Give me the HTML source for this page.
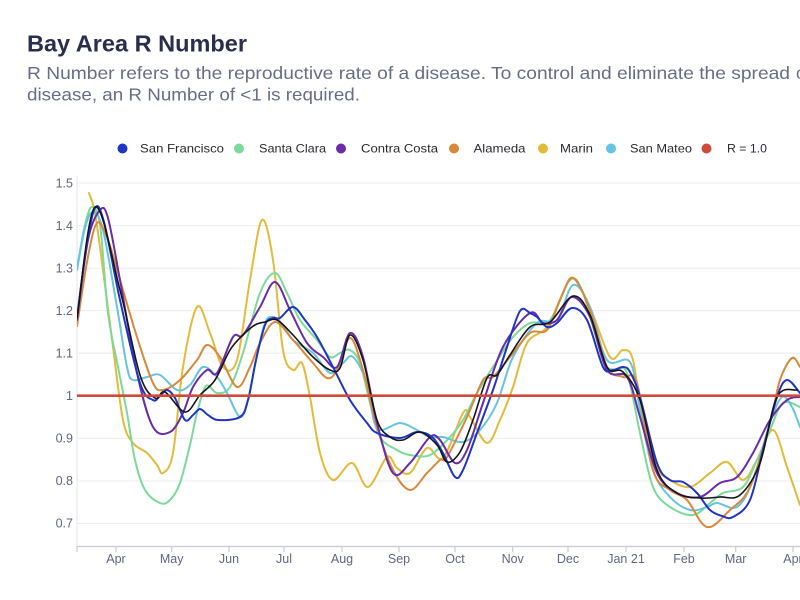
<!DOCTYPE html>
<html>
<head>
<meta charset="utf-8">
<style>
html,body{margin:0;padding:0;background:#fff;width:800px;height:600px;overflow:hidden;}
svg{display:block;}
text{font-family:"Liberation Sans",Arial,sans-serif;}
</style>
</head>
<body>
<svg id="c" width="800" height="600" viewBox="0 0 800 600" xmlns="http://www.w3.org/2000/svg">
<rect width="800" height="600" fill="#fff"/>
<!-- Title -->
<text x="27" y="51.5" font-size="23" font-weight="bold" fill="#2b2d4c" textLength="220" lengthAdjust="spacingAndGlyphs">Bay Area R Number</text>
<text x="27" y="79" font-size="17.5" fill="#686c86" textLength="763" lengthAdjust="spacingAndGlyphs">R Number refers to the reproductive rate of a disease. To control and eliminate the spread</text>
<text x="796" y="79" font-size="17.5" fill="#686c86">of</text>
<text x="27" y="100.5" font-size="17.5" fill="#686c86" textLength="333" lengthAdjust="spacingAndGlyphs">disease, an R Number of &lt;1 is required.</text>

<!-- Legend -->
<g font-size="12" fill="#2a2a33">
<circle cx="122.5" cy="148.5" r="5" fill="#1f35c5"/><text x="140" y="152.5" textLength="84" lengthAdjust="spacingAndGlyphs">San Francisco</text>
<circle cx="239" cy="148.5" r="5" fill="#7bd999"/><text x="259" y="152.5" textLength="67" lengthAdjust="spacingAndGlyphs">Santa Clara</text>
<circle cx="341" cy="148.5" r="5" fill="#6a2ca8"/><text x="361" y="152.5" textLength="77" lengthAdjust="spacingAndGlyphs">Contra Costa</text>
<circle cx="454" cy="148.5" r="5" fill="#d8883a"/><text x="473.5" y="152.5" textLength="52" lengthAdjust="spacingAndGlyphs">Alameda</text>
<circle cx="543" cy="148.5" r="5" fill="#e2bb3b"/><text x="560" y="152.5" textLength="33" lengthAdjust="spacingAndGlyphs">Marin</text>
<circle cx="611" cy="148.5" r="5" fill="#67c4e0"/><text x="630" y="152.5" textLength="62" lengthAdjust="spacingAndGlyphs">San Mateo</text>
<circle cx="706.5" cy="148.5" r="5" fill="#cf4a3a"/><text x="727" y="152.5" textLength="40" lengthAdjust="spacingAndGlyphs">R = 1.0</text>
</g>

<!-- gridlines -->
<g stroke="#ececf0" stroke-width="1">
<line x1="77" x2="800" y1="183" y2="183"/>
<line x1="77" x2="800" y1="225.6" y2="225.6"/>
<line x1="77" x2="800" y1="268.3" y2="268.3"/>
<line x1="77" x2="800" y1="310.6" y2="310.6"/>
<line x1="77" x2="800" y1="353.1" y2="353.1"/>
<line x1="77" x2="800" y1="438.3" y2="438.3"/>
<line x1="77" x2="800" y1="481" y2="481"/>
<line x1="77" x2="800" y1="523.5" y2="523.5"/>
</g>
<line x1="77" x2="77" y1="176" y2="546" stroke="#e6e6ec" stroke-width="1"/>
<!-- x axis -->
<line x1="77" x2="800" y1="546.5" y2="546.5" stroke="#c8cad6" stroke-width="1.2"/>
<g stroke="#c8cad6" stroke-width="1.2">
<line x1="77" x2="77" y1="546" y2="552"/>
<line x1="116" x2="116" y1="546" y2="552"/>
<line x1="171.7" x2="171.7" y1="546" y2="552"/>
<line x1="229" x2="229" y1="546" y2="552"/>
<line x1="284" x2="284" y1="546" y2="552"/>
<line x1="342" x2="342" y1="546" y2="552"/>
<line x1="399" x2="399" y1="546" y2="552"/>
<line x1="455" x2="455" y1="546" y2="552"/>
<line x1="512.7" x2="512.7" y1="546" y2="552"/>
<line x1="568" x2="568" y1="546" y2="552"/>
<line x1="626" x2="626" y1="546" y2="552"/>
<line x1="684" x2="684" y1="546" y2="552"/>
<line x1="735.7" x2="735.7" y1="546" y2="552"/>
<line x1="793" x2="793" y1="546" y2="552"/>
</g>
<g font-size="12.5" fill="#62667e" text-anchor="middle">
<text x="116" y="563">Apr</text>
<text x="171.7" y="563">May</text>
<text x="229" y="563">Jun</text>
<text x="284" y="563">Jul</text>
<text x="342" y="563">Aug</text>
<text x="399" y="563">Sep</text>
<text x="455" y="563">Oct</text>
<text x="512.7" y="563">Nov</text>
<text x="568" y="563">Dec</text>
<text x="626" y="563">Jan 21</text>
<text x="684" y="563">Feb</text>
<text x="735.7" y="563">Mar</text>
<text x="793" y="563">Apr</text>
</g>
<g font-size="12.5" fill="#62667e" text-anchor="end">
<text x="73" y="187.5">1.5</text>
<text x="73" y="230">1.4</text>
<text x="73" y="272.5">1.3</text>
<text x="73" y="315">1.2</text>
<text x="73" y="357.5">1.1</text>
<text x="73" y="400">1</text>
<text x="73" y="442.5">0.9</text>
<text x="73" y="485">0.8</text>
<text x="73" y="527.5">0.7</text>
</g>

<defs><clipPath id="pc"><rect x="77" y="170" width="723" height="376"/></clipPath></defs>
<g clip-path="url(#pc)" fill="none" stroke-width="2" stroke-linejoin="round" stroke-linecap="round">
<polyline class="s" stroke="#e2bb3b" points="89,193 95,213 103,270 113,347 123,420 133,443 147,453 157,465 163,473 173,453 183,367 197,307 210,333 223,367 237,360 250,280 262,220 273,260 283,350 293,370 302,363 310,397 320,453 333,480 352,463 368,487 387,457 397,468 410,473 427,448 443,458 463,413 470,417 487,443 500,420 513,387 527,343 547,327 563,293 573,278 590,307 610,357 623,350 633,360 643,423 657,467 670,480 690,487 710,473 727,462 743,480 757,460 773,430 787,467 800,505"/>
<polyline class="s" stroke="#7bd999" points="77,268 85,225 92,207 100,225 108,313 118,367 127,413 135,460 145,490 160,503 170,500 180,483 190,445 197,413 206,386 217,393 230,387 243,353 260,293 275,273 287,293 300,320 317,340 330,357 340,353 350,350 360,363 370,403 380,437 397,450 410,455 430,455 450,437 463,420 477,393 493,367 513,337 530,323 550,320 570,280 583,293 603,360 615,370 627,373 640,433 653,487 670,507 693,515 710,503 723,493 743,487 757,460 770,430 783,403 800,407"/>
<polyline class="s" stroke="#67c4e0" points="77,270 85,228 93,212 103,230 117,307 127,367 133,380 147,377 160,375 177,390 190,385 203,367 217,377 227,393 240,417 248,400 256,360 265,323 273,317 283,325 293,340 313,353 330,373 343,363 353,357 367,383 377,428 400,423 417,430 430,437 443,437 463,442 480,430 497,403 513,357 537,323 557,320 573,285 590,307 607,360 630,362 640,410 653,470 670,497 690,510 707,507 717,503 737,507 753,480 770,423 782,397 792,407 800,427"/>
<polyline class="s" stroke="#d8883a" points="77,326 87,262 97,223 108,240 120,280 137,337 153,383 163,390 180,380 197,360 207,345 220,357 237,387 250,367 260,343 275,322 293,340 313,363 327,378 337,370 350,338 363,370 377,427 393,470 410,490 427,473 440,460 447,457 467,417 483,380 493,377 510,357 530,333 547,330 560,300 573,278 590,310 607,367 623,377 637,383 653,470 670,490 687,500 707,527 730,510 750,487 770,423 780,380 792,358 800,367"/>
<polyline class="s" stroke="#6a2ca8" points="77,320 88,240 100,210 108,218 120,280 137,373 153,427 170,432 183,413 193,387 207,370 217,373 233,337 243,335 260,307 275,282 290,310 307,343 323,357 337,367 350,333 363,357 377,423 393,473 410,463 430,437 440,440 455,463 467,450 483,403 503,347 530,313 543,323 557,320 572,297 590,317 607,370 627,377 640,417 657,473 677,493 700,497 720,483 737,477 753,453 770,420 787,400 800,397"/>
<polyline class="s" stroke="#1f35c5" points="77,318 86,250 95,208 104,222 120,300 140,383 153,400 160,396 167,390 175,398 185,420 193,415 200,409 208,415 218,420 240,417 248,400 256,360 265,325 273,318 280,318 293,307 305,320 317,337 333,367 350,400 367,423 377,433 400,438 417,432 432,437 443,453 455,477 463,470 477,433 493,390 507,347 520,311 530,313 537,317 547,327 557,323 572,308 587,320 603,367 613,370 623,367 630,372 640,397 657,463 670,480 683,482 697,493 710,510 722,516 733,517 750,500 763,450 777,397 787,380 800,393"/>
<polyline class="s" stroke="#15151a" stroke-width="1.6" points="77,318 95,207 120,290 140,375 155,398 165,392 185,412 200,395 215,380 230,350 243,335 255,325 265,322 277,320 293,335 313,357 330,370 340,368 350,335 363,360 377,420 390,437 403,440 420,432 437,445 447,462 460,452 473,420 487,378 497,375 510,355 530,327 550,322 573,296 590,315 607,367 623,372 640,400 657,470 677,493 700,498 720,497 740,495 760,463 777,397 797,390"/>
</g>
<line x1="77" x2="800" y1="395.7" y2="395.7" stroke="#cf4a3a" stroke-width="2.6"/>
</svg>
<script>
(function(){
  var ns="http://www.w3.org/2000/svg";
  var pls=document.querySelectorAll("polyline.s");
  for(var i=0;i<pls.length;i++){
    var pl=pls[i];
    var raw=pl.getAttribute("points").trim().split(/\s+/);
    var p=[];
    for(var j=0;j<raw.length;j++){var a=raw[j].split(",");p.push([+a[0],+a[1]]);}
    var d="M"+p[0][0]+","+p[0][1];
    for(var k=0;k<p.length-1;k++){
      var p0=p[k>0?k-1:0],p1=p[k],p2=p[k+1],p3=p[k+2<p.length?k+2:k+1];
      var c1x=p1[0]+(p2[0]-p0[0])/6,c1y=p1[1]+(p2[1]-p0[1])/6;
      var c2x=p2[0]-(p3[0]-p1[0])/6,c2y=p2[1]-(p3[1]-p1[1])/6;
      d+=" C"+c1x.toFixed(1)+","+c1y.toFixed(1)+" "+c2x.toFixed(1)+","+c2y.toFixed(1)+" "+p2[0]+","+p2[1];
    }
    var path=document.createElementNS(ns,"path");
    path.setAttribute("d",d);
    path.setAttribute("stroke",pl.getAttribute("stroke"));
    if(pl.getAttribute("stroke-width"))path.setAttribute("stroke-width",pl.getAttribute("stroke-width"));
    pl.parentNode.replaceChild(path,pl);
  }
})();
</script>
</body>
</html>
